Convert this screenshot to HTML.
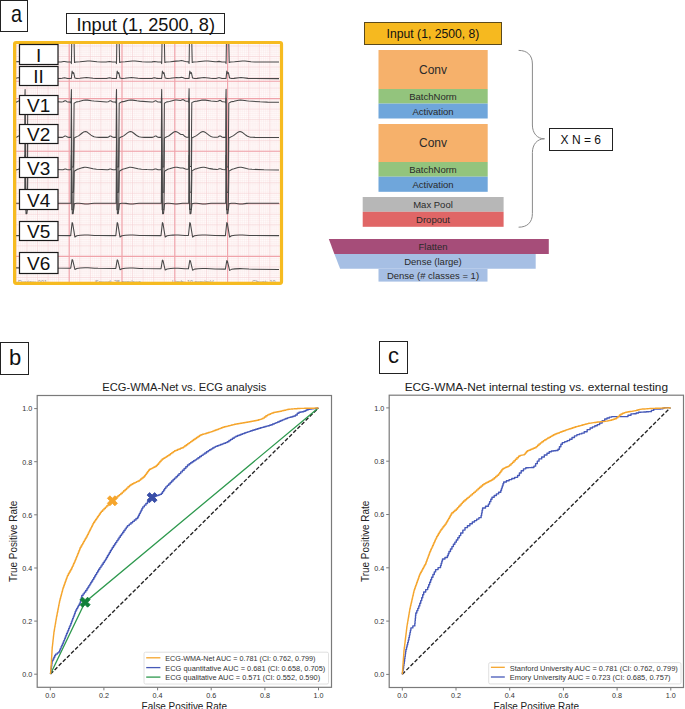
<!DOCTYPE html><html><head><meta charset="utf-8"><style>html,body{margin:0;padding:0;background:#fff;}svg{display:block;}</style></head><body><svg width="685" height="709" viewBox="0 0 685 709"><rect width="685" height="709" fill="#fff"/><rect x="0.5" y="0.5" width="27" height="31" fill="#fff" stroke="#222" stroke-width="1"/><text x="16.5" y="21.9" text-anchor="middle" font-family='"Liberation Sans", sans-serif' font-size="24" textLength="11" lengthAdjust="spacingAndGlyphs" fill="#111">a</text><rect x="66.5" y="13.5" width="158" height="20" fill="#fff" stroke="#222" stroke-width="1"/><text x="145.7" y="31" text-anchor="middle" font-family='"Liberation Sans", sans-serif' font-size="18.2" fill="#111">Input (1, 2500, 8)</text><defs><clipPath id="ecgclip"><rect x="16" y="44" width="264" height="238"/></clipPath></defs><g clip-path="url(#ecgclip)"><rect x="16" y="44" width="264" height="238" fill="#fffbfb"/><path d="M5.84 44V282M7.95 44V282M10.06 44V282M12.18 44V282M14.29 44V282M16.40 44V282M18.51 44V282M20.62 44V282M22.74 44V282M24.85 44V282M26.96 44V282M29.07 44V282M31.18 44V282M33.30 44V282M35.41 44V282M37.52 44V282M39.63 44V282M41.74 44V282M43.86 44V282M45.97 44V282M48.08 44V282M50.19 44V282M52.30 44V282M54.42 44V282M56.53 44V282M58.64 44V282M60.75 44V282M62.86 44V282M64.98 44V282M67.09 44V282M69.20 44V282M71.31 44V282M73.42 44V282M75.54 44V282M77.65 44V282M79.76 44V282M81.87 44V282M83.98 44V282M86.10 44V282M88.21 44V282M90.32 44V282M92.43 44V282M94.54 44V282M96.66 44V282M98.77 44V282M100.88 44V282M102.99 44V282M105.10 44V282M107.22 44V282M109.33 44V282M111.44 44V282M113.55 44V282M115.66 44V282M117.78 44V282M119.89 44V282M122.00 44V282M124.11 44V282M126.22 44V282M128.34 44V282M130.45 44V282M132.56 44V282M134.67 44V282M136.78 44V282M138.90 44V282M141.01 44V282M143.12 44V282M145.23 44V282M147.34 44V282M149.46 44V282M151.57 44V282M153.68 44V282M155.79 44V282M157.90 44V282M160.02 44V282M162.13 44V282M164.24 44V282M166.35 44V282M168.46 44V282M170.58 44V282M172.69 44V282M174.80 44V282M176.91 44V282M179.02 44V282M181.14 44V282M183.25 44V282M185.36 44V282M187.47 44V282M189.58 44V282M191.70 44V282M193.81 44V282M195.92 44V282M198.03 44V282M200.14 44V282M202.26 44V282M204.37 44V282M206.48 44V282M208.59 44V282M210.70 44V282M212.82 44V282M214.93 44V282M217.04 44V282M219.15 44V282M221.26 44V282M223.38 44V282M225.49 44V282M227.60 44V282M229.71 44V282M231.82 44V282M233.94 44V282M236.05 44V282M238.16 44V282M240.27 44V282M242.38 44V282M244.50 44V282M246.61 44V282M248.72 44V282M250.83 44V282M252.94 44V282M255.06 44V282M257.17 44V282M259.28 44V282M261.39 44V282M263.50 44V282M265.62 44V282M267.73 44V282M269.84 44V282M271.95 44V282M274.06 44V282M276.18 44V282M278.29 44V282M16 46.00H280M16 48.10H280M16 50.21H280M16 52.31H280M16 54.42H280M16 56.52H280M16 58.62H280M16 60.73H280M16 62.83H280M16 64.94H280M16 67.04H280M16 69.14H280M16 71.25H280M16 73.35H280M16 75.46H280M16 77.56H280M16 79.66H280M16 81.77H280M16 83.87H280M16 85.98H280M16 88.08H280M16 90.18H280M16 92.29H280M16 94.39H280M16 96.50H280M16 98.60H280M16 100.70H280M16 102.81H280M16 104.91H280M16 107.02H280M16 109.12H280M16 111.22H280M16 113.33H280M16 115.43H280M16 117.54H280M16 119.64H280M16 121.74H280M16 123.85H280M16 125.95H280M16 128.06H280M16 130.16H280M16 132.26H280M16 134.37H280M16 136.47H280M16 138.58H280M16 140.68H280M16 142.78H280M16 144.89H280M16 146.99H280M16 149.10H280M16 151.20H280M16 153.30H280M16 155.41H280M16 157.51H280M16 159.62H280M16 161.72H280M16 163.82H280M16 165.93H280M16 168.03H280M16 170.14H280M16 172.24H280M16 174.34H280M16 176.45H280M16 178.55H280M16 180.66H280M16 182.76H280M16 184.86H280M16 186.97H280M16 189.07H280M16 191.18H280M16 193.28H280M16 195.38H280M16 197.49H280M16 199.59H280M16 201.70H280M16 203.80H280M16 205.90H280M16 208.01H280M16 210.11H280M16 212.22H280M16 214.32H280M16 216.42H280M16 218.53H280M16 220.63H280M16 222.74H280M16 224.84H280M16 226.94H280M16 229.05H280M16 231.15H280M16 233.26H280M16 235.36H280M16 237.46H280M16 239.57H280M16 241.67H280M16 243.78H280M16 245.88H280M16 247.98H280M16 250.09H280M16 252.19H280M16 254.30H280M16 256.40H280M16 258.50H280M16 260.61H280M16 262.71H280M16 264.82H280M16 266.92H280M16 269.02H280M16 271.13H280M16 273.23H280M16 275.34H280M16 277.44H280M16 279.54H280M16 281.65H280" stroke="#f8dfe2" stroke-width="0.3" fill="none"/><path d="M16.40 44V282M26.96 44V282M37.52 44V282M48.08 44V282M58.64 44V282M69.20 44V282M79.76 44V282M90.32 44V282M100.88 44V282M111.44 44V282M122.00 44V282M132.56 44V282M143.12 44V282M153.68 44V282M164.24 44V282M174.80 44V282M185.36 44V282M195.92 44V282M206.48 44V282M217.04 44V282M227.60 44V282M238.16 44V282M248.72 44V282M259.28 44V282M269.84 44V282M16 46.00H280M16 56.52H280M16 67.04H280M16 77.56H280M16 88.08H280M16 98.60H280M16 109.12H280M16 119.64H280M16 130.16H280M16 140.68H280M16 151.20H280M16 161.72H280M16 172.24H280M16 182.76H280M16 193.28H280M16 203.80H280M16 214.32H280M16 224.84H280M16 235.36H280M16 245.88H280M16 256.40H280M16 266.92H280M16 277.44H280" stroke="#f5cfd3" stroke-width="0.5" fill="none"/><path d="M69.2 44V282M122.0 44V282M174.8 44V282M227.6 44V282M16 81.3H280M16 98.6H280M16 151.2H280M16 203.8H280M16 256.4H280" stroke="#f0a3aa" stroke-width="1.1" fill="none"/><path d="M16.00 61.75 L18.00 61.40 L21.00 61.92 L24.60 62.00 L25.10 63.60 L25.50 38.00 L27.70 37.98 L28.20 62.58 L29.50 61.96 L33.50 61.76 L41.00 61.02 L44.00 61.08 L50.50 61.76 L55.00 61.97 L61.00 61.95 L63.50 61.48 L64.50 61.41 L67.50 61.94 L70.90 62.00 L71.40 63.60 L71.80 38.00 L74.00 37.98 L74.50 62.58 L75.80 61.96 L80.00 61.75 L85.50 61.15 L87.50 61.01 L90.00 61.06 L97.00 61.78 L101.50 61.97 L106.00 61.95 L109.50 61.40 L112.50 61.93 L116.00 62.00 L116.50 63.60 L116.90 38.00 L119.10 37.98 L119.60 62.58 L120.90 61.96 L125.00 61.76 L132.50 61.02 L135.00 61.05 L142.00 61.77 L146.50 61.97 L151.00 61.96 L152.00 61.87 L154.50 61.40 L158.00 61.95 L161.20 62.00 L161.70 63.60 L162.10 38.00 L164.30 37.98 L164.80 62.58 L166.10 61.96 L170.50 61.73 L176.00 61.13 L179.00 60.92 L181.50 60.59 L182.50 60.69 L184.50 61.35 L185.50 61.57 L188.60 61.86 L189.10 63.49 L189.50 37.90 L191.70 37.95 L192.20 62.55 L193.50 61.94 L197.50 61.76 L205.00 61.02 L208.00 61.08 L215.00 61.78 L216.50 61.74 L219.00 61.37 L222.00 61.91 L225.60 62.00 L226.10 63.60 L226.50 38.00 L228.70 37.98 L229.20 62.58 L230.50 61.96 L234.50 61.76 L240.00 61.16 L242.50 61.00 L245.00 61.08 L251.00 61.72 L255.00 61.94 L279.00 62.00" stroke="#484848" stroke-width="1.05" fill="none" stroke-linejoin="round"/><path d="M16.00 78.27 L17.00 77.96 L18.00 77.80 L18.50 77.84 L21.00 78.49 L25.00 78.60 L25.80 71.10 L26.80 73.60 L27.40 72.59 L28.60 78.08 L30.50 78.54 L33.00 78.38 L38.00 77.72 L40.00 77.60 L42.00 77.72 L47.00 78.38 L49.50 78.54 L60.50 78.57 L62.00 78.35 L63.50 77.91 L64.50 77.81 L67.50 78.52 L71.30 78.60 L72.10 71.10 L73.10 73.60 L73.70 72.59 L74.90 78.08 L76.80 78.54 L80.00 78.31 L84.50 77.70 L86.50 77.60 L88.50 77.74 L93.00 78.35 L96.00 78.55 L105.50 78.57 L106.50 78.48 L108.50 77.93 L109.50 77.80 L112.50 78.51 L116.40 78.60 L117.20 71.10 L118.20 73.60 L118.80 72.59 L120.00 78.08 L121.90 78.54 L125.00 78.32 L129.50 77.71 L131.50 77.60 L133.50 77.73 L138.00 78.34 L141.00 78.54 L151.00 78.56 L152.00 78.42 L154.00 77.86 L154.50 77.80 L155.50 77.93 L157.00 78.38 L158.00 78.54 L161.60 78.60 L162.40 71.10 L163.40 73.60 L164.00 72.59 L165.20 78.08 L167.10 78.54 L167.50 78.52 L170.50 78.29 L175.00 77.68 L176.50 77.60 L179.00 77.66 L181.50 77.37 L182.50 77.51 L184.50 78.26 L185.50 78.46 L189.00 78.59 L189.80 71.09 L190.80 73.59 L191.40 72.59 L192.60 78.08 L194.50 78.54 L197.00 78.38 L202.00 77.72 L204.00 77.60 L206.00 77.72 L210.50 78.33 L213.00 78.52 L215.00 78.55 L216.00 78.48 L218.50 77.84 L219.00 77.80 L219.50 77.84 L222.00 78.49 L226.00 78.60 L226.80 71.10 L227.80 73.60 L228.40 72.59 L229.60 78.08 L231.50 78.54 L234.00 78.38 L239.00 77.72 L241.00 77.60 L243.00 77.72 L248.00 78.38 L251.00 78.56 L279.00 78.60" stroke="#484848" stroke-width="1.05" fill="none" stroke-linejoin="round"/><path d="M16.00 102.14 L17.00 101.87 L18.50 101.00 L19.00 100.89 L19.50 100.99 L21.00 101.85 L21.50 102.03 L22.50 102.15 L24.40 102.14 L24.70 103.14 L25.10 89.43 L25.50 167.12 L27.20 167.07 L27.80 103.24 L30.20 101.86 L33.00 101.39 L37.50 100.25 L39.50 100.04 L41.50 100.17 L45.50 100.83 L48.00 101.11 L61.50 101.96 L63.00 101.82 L65.00 100.82 L65.50 100.81 L66.00 101.00 L67.00 101.64 L68.00 102.02 L70.70 102.12 L71.00 103.12 L71.40 89.41 L71.80 167.10 L73.50 167.06 L74.10 103.24 L76.50 101.86 L79.00 101.46 L83.50 100.31 L85.50 100.05 L87.50 100.13 L91.50 100.78 L94.00 101.09 L106.50 101.90 L108.00 101.80 L108.50 101.63 L110.00 100.82 L110.50 100.76 L111.00 100.92 L112.00 101.56 L113.00 101.98 L114.00 102.10 L115.80 102.11 L116.10 103.11 L116.50 89.40 L116.90 167.10 L118.60 167.06 L119.20 103.23 L121.60 101.86 L124.50 101.37 L128.50 100.34 L130.50 100.05 L132.50 100.12 L137.00 100.84 L139.50 101.12 L151.50 101.90 L152.50 101.91 L153.50 101.71 L155.00 100.90 L155.50 100.76 L156.00 100.84 L157.50 101.73 L158.00 101.93 L159.00 102.09 L161.00 102.11 L161.30 103.11 L161.70 89.40 L162.10 167.10 L163.80 167.06 L164.40 103.23 L166.80 101.86 L169.50 101.41 L174.00 100.27 L175.50 100.07 L176.50 100.04 L180.50 100.41 L181.00 100.32 L182.50 99.68 L183.00 99.64 L183.50 99.80 L185.00 100.80 L185.50 101.01 L186.50 101.20 L188.40 101.32 L188.70 102.34 L189.10 88.65 L189.50 166.37 L191.20 166.43 L191.80 102.65 L194.20 101.43 L197.00 101.12 L201.50 100.14 L203.50 99.97 L205.50 100.13 L211.00 101.01 L216.50 101.40 L217.50 101.34 L218.00 101.19 L219.50 100.43 L220.00 100.35 L220.50 100.49 L222.00 101.44 L222.50 101.65 L223.50 101.82 L225.40 101.91 L225.70 102.92 L226.10 89.23 L226.50 166.93 L228.00 166.94 L228.20 166.94 L228.80 103.13 L231.20 101.80 L234.00 101.36 L238.50 100.25 L240.50 100.04 L242.50 100.16 L246.50 100.83 L248.50 101.07 L260.00 101.85 L267.50 102.13 L279.00 102.20" stroke="#484848" stroke-width="1.05" fill="none" stroke-linejoin="round"/><path d="M16.00 137.33 L17.00 137.03 L18.50 136.02 L19.00 135.90 L19.50 136.02 L21.00 137.03 L21.50 137.23 L22.50 137.38 L24.70 137.38 L25.10 98.38 L25.55 192.37 L27.20 192.29 L27.80 138.03 L32.50 135.65 L36.00 132.91 L37.00 132.22 L38.00 131.76 L39.00 131.60 L40.00 131.76 L41.00 132.22 L42.00 132.91 L44.50 134.94 L46.00 135.95 L47.50 136.65 L49.00 137.06 L50.50 137.26 L52.50 137.37 L62.00 137.37 L63.00 137.16 L65.00 135.95 L65.50 135.92 L66.00 136.13 L67.00 136.85 L68.00 137.28 L69.00 137.38 L71.00 137.38 L71.40 98.38 L71.85 192.37 L73.50 192.29 L74.10 138.03 L76.50 136.75 L77.50 136.37 L78.50 135.84 L80.00 134.78 L82.50 132.76 L83.50 132.11 L84.50 131.70 L85.50 131.61 L86.50 131.83 L87.50 132.34 L91.00 135.09 L92.50 136.07 L94.00 136.72 L95.50 137.10 L97.00 137.28 L99.00 137.37 L107.00 137.37 L108.00 137.20 L108.50 136.97 L110.00 135.98 L110.50 135.91 L111.00 136.08 L112.00 136.78 L113.00 137.26 L114.00 137.38 L116.10 137.38 L116.50 98.38 L116.95 192.37 L118.60 192.29 L119.20 138.03 L121.60 136.75 L123.00 136.17 L124.00 135.58 L127.50 132.83 L128.50 132.16 L129.50 131.73 L130.50 131.60 L131.50 131.80 L132.50 132.28 L133.50 132.98 L136.00 135.02 L137.50 136.01 L139.00 136.69 L140.50 137.08 L142.00 137.27 L144.00 137.37 L152.50 137.35 L153.50 137.08 L155.00 136.08 L155.50 135.91 L156.00 135.98 L157.50 136.97 L158.00 137.20 L159.00 137.37 L161.30 137.38 L161.70 98.38 L162.15 192.37 L163.80 192.29 L164.40 138.03 L166.80 136.75 L168.00 136.27 L169.00 135.71 L173.50 132.28 L174.50 131.80 L175.50 131.60 L176.50 131.73 L177.50 132.16 L180.50 134.29 L181.00 134.49 L182.50 134.52 L183.00 134.67 L183.50 135.04 L185.00 136.55 L185.50 136.87 L186.50 137.18 L188.70 137.34 L189.10 98.34 L189.55 192.34 L191.20 192.28 L191.80 138.03 L196.50 135.65 L200.00 132.91 L201.00 132.22 L202.00 131.76 L203.00 131.60 L204.00 131.76 L205.00 132.22 L206.00 132.91 L209.50 135.65 L211.00 136.45 L212.50 136.95 L214.50 137.26 L217.00 137.31 L218.00 137.02 L219.50 136.02 L220.00 135.90 L220.50 136.02 L222.00 137.03 L222.50 137.23 L223.50 137.38 L225.70 137.38 L226.10 98.38 L226.55 192.37 L228.20 192.29 L228.80 138.03 L233.50 135.65 L237.00 132.91 L238.00 132.22 L239.00 131.76 L240.00 131.60 L241.00 131.76 L242.00 132.22 L243.00 132.91 L246.00 135.31 L247.50 136.22 L249.00 136.82 L250.50 137.15 L252.50 137.33 L255.00 137.39 L279.00 137.40" stroke="#484848" stroke-width="1.05" fill="none" stroke-linejoin="round"/><path d="M16.00 169.86 L17.00 169.70 L18.50 169.16 L19.00 169.09 L19.50 169.16 L21.50 169.79 L24.70 169.85 L25.10 137.84 L25.55 209.83 L27.25 209.76 L27.90 171.22 L31.20 169.25 L33.00 168.78 L36.50 167.67 L38.00 167.35 L39.00 167.26 L41.00 167.39 L46.50 168.75 L48.50 169.09 L50.50 169.29 L56.00 169.57 L62.00 169.76 L63.00 169.67 L65.00 169.05 L65.50 169.05 L67.00 169.56 L68.00 169.79 L71.00 169.84 L71.40 137.83 L71.85 209.82 L73.55 209.75 L74.20 171.21 L77.50 169.25 L79.00 168.87 L83.00 167.62 L84.50 167.32 L85.50 167.25 L87.50 167.43 L93.00 168.79 L96.50 169.26 L107.00 169.73 L108.00 169.66 L110.00 169.05 L110.50 169.02 L113.00 169.76 L116.10 169.83 L116.50 137.82 L116.95 209.82 L118.65 209.75 L119.30 171.21 L122.60 169.25 L124.50 168.75 L128.00 167.64 L129.50 167.34 L130.50 167.25 L132.50 167.41 L138.00 168.77 L141.50 169.25 L147.00 169.56 L152.50 169.72 L153.50 169.60 L155.00 169.10 L155.50 169.02 L156.00 169.06 L158.00 169.73 L159.00 169.83 L161.30 169.83 L161.70 137.83 L162.15 209.82 L163.85 209.75 L164.50 171.21 L167.80 169.25 L169.50 168.81 L173.00 167.70 L175.00 167.30 L177.00 167.31 L180.50 168.01 L183.00 167.92 L185.50 169.03 L186.50 169.20 L188.70 169.34 L189.10 137.35 L189.55 209.37 L191.25 209.38 L191.90 170.86 L195.20 169.03 L197.00 168.62 L201.00 167.47 L203.00 167.21 L204.00 167.24 L205.50 167.46 L210.00 168.64 L213.00 169.14 L217.00 169.40 L218.00 169.28 L219.50 168.81 L220.00 168.77 L220.50 168.85 L222.50 169.56 L225.70 169.72 L226.10 137.72 L226.55 209.72 L228.25 209.68 L228.90 171.15 L232.20 169.23 L234.00 168.77 L238.00 167.54 L240.00 167.25 L241.00 167.27 L242.50 167.48 L246.50 168.53 L248.50 168.94 L252.00 169.32 L264.00 169.80 L279.00 169.90" stroke="#484848" stroke-width="1.05" fill="none" stroke-linejoin="round"/><path d="M16.00 203.20 L24.70 203.20 L25.10 155.20 L26.00 213.70 L26.90 213.70 L28.00 203.70 L30.20 203.20 L32.50 203.24 L35.00 203.42 L38.50 203.99 L40.00 204.10 L41.50 203.99 L45.00 203.42 L47.50 203.24 L71.00 203.20 L71.40 155.20 L72.30 213.70 L73.20 213.70 L74.30 203.70 L76.50 203.20 L79.00 203.25 L81.50 203.45 L85.00 204.02 L86.50 204.10 L88.00 203.97 L91.50 203.40 L94.00 203.23 L116.10 203.20 L116.50 155.20 L117.40 213.70 L118.30 213.70 L119.40 203.70 L121.60 203.20 L124.00 203.24 L126.00 203.38 L130.00 204.01 L131.50 204.10 L133.00 203.98 L136.50 203.41 L139.00 203.24 L161.30 203.20 L161.70 155.20 L162.60 213.70 L163.50 213.70 L164.60 203.70 L166.80 203.20 L169.00 203.24 L171.50 203.41 L175.50 204.04 L177.00 204.09 L182.50 203.33 L184.50 203.23 L188.70 203.20 L189.10 155.20 L190.00 213.70 L190.90 213.70 L192.00 203.70 L194.20 203.20 L196.50 203.24 L199.00 203.42 L202.50 203.99 L204.00 204.10 L205.50 203.99 L209.00 203.42 L211.00 203.26 L225.70 203.20 L226.10 155.20 L227.00 213.70 L227.90 213.70 L229.00 203.70 L231.20 203.20 L235.00 203.32 L239.50 203.99 L241.00 204.10 L242.50 203.99 L246.50 203.37 L249.00 203.23 L279.00 203.20" stroke="#484848" stroke-width="1.05" fill="none" stroke-linejoin="round"/><path d="M16.00 235.60 L24.40 235.60 L25.80 222.59 L26.40 223.59 L28.60 237.06 L30.50 235.80 L34.00 235.31 L38.50 235.03 L42.00 235.05 L48.00 235.43 L52.00 235.57 L70.70 235.60 L72.10 222.59 L72.70 223.59 L74.90 237.06 L76.80 235.80 L80.30 235.31 L84.50 235.04 L88.00 235.03 L94.50 235.44 L98.00 235.56 L115.80 235.60 L117.20 222.59 L117.80 223.59 L120.00 237.06 L121.90 235.80 L125.40 235.31 L130.00 235.02 L133.00 235.03 L139.50 235.44 L143.00 235.56 L161.00 235.60 L162.40 222.59 L163.00 223.59 L165.20 237.06 L167.10 235.80 L170.60 235.31 L173.00 235.14 L175.50 235.01 L178.00 235.02 L185.00 235.45 L188.40 235.56 L189.80 222.57 L190.40 223.57 L192.60 237.05 L194.50 235.80 L198.00 235.31 L202.00 235.05 L205.50 235.03 L215.00 235.55 L225.40 235.60 L226.80 222.59 L227.40 223.59 L229.60 237.06 L231.50 235.80 L235.00 235.31 L239.50 235.03 L242.50 235.03 L249.50 235.46 L253.50 235.57 L279.00 235.60" stroke="#484848" stroke-width="1.05" fill="none" stroke-linejoin="round"/><path d="M16.00 267.86 L24.40 267.90 L25.80 259.30 L26.40 259.90 L28.60 269.19 L30.50 268.14 L34.00 267.67 L38.50 267.42 L42.00 267.46 L48.00 267.88 L52.00 268.04 L70.70 268.18 L72.10 259.58 L72.70 260.18 L74.90 269.46 L76.80 268.42 L80.30 267.95 L85.00 267.69 L88.00 267.72 L94.50 268.17 L98.00 268.31 L115.80 268.45 L117.20 259.85 L117.80 260.45 L120.00 269.74 L121.90 268.69 L125.40 268.22 L130.00 267.96 L133.00 267.99 L139.50 268.44 L143.00 268.58 L161.00 268.72 L162.40 260.12 L163.00 260.72 L165.20 270.01 L167.10 268.96 L170.60 268.49 L174.00 268.28 L178.00 268.25 L185.00 268.72 L188.40 268.85 L189.80 260.27 L190.40 260.87 L192.60 270.17 L194.50 269.13 L198.00 268.66 L202.50 268.40 L206.00 268.44 L215.00 269.00 L225.40 269.11 L226.80 260.51 L227.40 261.11 L229.60 270.39 L231.50 269.35 L235.00 268.88 L240.00 268.61 L243.00 268.66 L249.00 269.09 L253.00 269.24 L279.00 269.43" stroke="#484848" stroke-width="1.05" fill="none" stroke-linejoin="round"/><g font-family='"Liberation Sans", sans-serif' font-size="5.5" fill="#8a8a8a"><text x="18" y="283.6">Device: 001</text><text x="95" y="283.6">Speed: 25 mm/sec</text><text x="172" y="283.6">Limb: 10 mm/mV</text><text x="252" y="283.6">Chest: 10</text></g></g><rect x="14.6" y="42.5" width="266.9" height="240.8" rx="1.5" fill="none" stroke="#f6bb20" stroke-width="3.2"/><rect x="19.5" y="44.5" width="38.5" height="20.0" fill="#fff" stroke="#1a1a1a" stroke-width="1.2"/><text x="38.6" y="61.5" text-anchor="middle" font-family='"Liberation Sans", sans-serif' font-size="19" fill="#111">I</text><rect x="19.5" y="66.5" width="38.5" height="19.0" fill="#fff" stroke="#1a1a1a" stroke-width="1.2"/><text x="38.6" y="83.2" text-anchor="middle" font-family='"Liberation Sans", sans-serif' font-size="19" fill="#111">II</text><rect x="19.5" y="95.5" width="38.5" height="19.0" fill="#fff" stroke="#1a1a1a" stroke-width="1.2"/><text x="38.6" y="112.4" text-anchor="middle" font-family='"Liberation Sans", sans-serif' font-size="19" fill="#111">V1</text><rect x="19.5" y="124.5" width="38.5" height="19.0" fill="#fff" stroke="#1a1a1a" stroke-width="1.2"/><text x="38.6" y="141.3" text-anchor="middle" font-family='"Liberation Sans", sans-serif' font-size="19" fill="#111">V2</text><rect x="19.5" y="157.5" width="38.5" height="20.0" fill="#fff" stroke="#1a1a1a" stroke-width="1.2"/><text x="38.6" y="175.2" text-anchor="middle" font-family='"Liberation Sans", sans-serif' font-size="19" fill="#111">V3</text><rect x="19.5" y="189.5" width="38.5" height="20.0" fill="#fff" stroke="#1a1a1a" stroke-width="1.2"/><text x="38.6" y="206.9" text-anchor="middle" font-family='"Liberation Sans", sans-serif' font-size="19" fill="#111">V4</text><rect x="19.5" y="221.5" width="38.5" height="19.0" fill="#fff" stroke="#1a1a1a" stroke-width="1.2"/><text x="38.6" y="238.2" text-anchor="middle" font-family='"Liberation Sans", sans-serif' font-size="19" fill="#111">V5</text><rect x="19.5" y="252.5" width="38.5" height="21.0" fill="#fff" stroke="#1a1a1a" stroke-width="1.2"/><text x="38.6" y="270.4" text-anchor="middle" font-family='"Liberation Sans", sans-serif' font-size="19" fill="#111">V6</text><rect x="364.5" y="22.5" width="137.0" height="22.0" fill="#f6b91f" stroke="#5b4a1c" stroke-width="1"/><text x="433" y="38.2" text-anchor="middle" font-family='"Liberation Sans", sans-serif' font-size="12.2" fill="#111">Input (1, 2500, 8)</text><rect x="378.5" y="50" width="109.2" height="39.0" fill="#f6b16b"/><text x="433" y="74.2" text-anchor="middle" font-family='"Liberation Sans", sans-serif' font-size="12" fill="#2a2a2a">Conv</text><rect x="378.5" y="89" width="109.2" height="14.6" fill="#93c47d"/><text x="433" y="99.6" text-anchor="middle" font-family='"Liberation Sans", sans-serif' font-size="9.5" fill="#2a2a2a">BatchNorm</text><rect x="378.5" y="103.6" width="109.2" height="14.9" fill="#6fa6db"/><text x="433" y="114.5" text-anchor="middle" font-family='"Liberation Sans", sans-serif' font-size="9.5" fill="#2a2a2a">Activation</text><rect x="378.5" y="124" width="109.2" height="38.0" fill="#f6b16b"/><text x="433" y="147.4" text-anchor="middle" font-family='"Liberation Sans", sans-serif' font-size="12" fill="#2a2a2a">Conv</text><rect x="378.5" y="162" width="109.2" height="14.7" fill="#93c47d"/><text x="433" y="172.8" text-anchor="middle" font-family='"Liberation Sans", sans-serif' font-size="9.5" fill="#2a2a2a">BatchNorm</text><rect x="378.5" y="176.7" width="109.2" height="15.1" fill="#6fa6db"/><text x="433" y="187.7" text-anchor="middle" font-family='"Liberation Sans", sans-serif' font-size="9.5" fill="#2a2a2a">Activation</text><rect x="362.7" y="197" width="140.9" height="14.8" fill="#b7b7b7"/><text x="433" y="207.8" text-anchor="middle" font-family='"Liberation Sans", sans-serif' font-size="9.5" fill="#2a2a2a">Max Pool</text><rect x="362.7" y="211.8" width="140.9" height="15.0" fill="#e06666"/><text x="433" y="222.7" text-anchor="middle" font-family='"Liberation Sans", sans-serif' font-size="9.5" fill="#2a2a2a">Dropout</text><polygon points="328.8,239.1 548.8,239.1 548.8,253.9 334.4,253.9" fill="#a64d79"/><text x="433" y="250.0" text-anchor="middle" font-family='"Liberation Sans", sans-serif' font-size="9.5" fill="#2a2a2a">Flatten</text><polygon points="334.4,253.9 535.7,253.9 535.7,268.8 340.1,268.8" fill="#a6bfe4"/><text x="433" y="264.8" text-anchor="middle" font-family='"Liberation Sans", sans-serif' font-size="9.5" fill="#2a2a2a">Dense (large)</text><rect x="378.5" y="268.8" width="109.0" height="12.8" fill="#a6bfe4"/><text x="433" y="278.8" text-anchor="middle" font-family='"Liberation Sans", sans-serif' font-size="9.5" fill="#2a2a2a">Dense (# classes = 1)</text><path d="M518.6 50.4 C527 50.4 532.4 55 532.4 64 L532.4 125 C532.4 133 537 138.8 544.5 138.8 C537 138.8 532.4 144.6 532.4 152.6 L532.4 213.6 C532.4 222.6 527 227.2 518.6 227.2" fill="none" stroke="#8a8a8a" stroke-width="1"/><rect x="549.5" y="128.5" width="63.0" height="22.0" fill="#fff" stroke="#222" stroke-width="1"/><text x="580.8" y="143.9" text-anchor="middle" font-family='"Liberation Sans", sans-serif' font-size="12" fill="#111">X N = 6</text><rect x="0.5" y="342.5" width="28" height="32" fill="#fff" stroke="#222" stroke-width="1"/><text x="15" y="364.6" text-anchor="middle" font-family='"Liberation Sans", sans-serif' font-size="22" fill="#111">b</text><rect x="37.2" y="395.5" width="294.3" height="291.79999999999995" fill="none" stroke="#7a7a7a" stroke-width="1.2"/><text x="50.3" y="697.9" text-anchor="middle" font-family='"Liberation Sans", sans-serif' font-size="7.8" textLength="10" lengthAdjust="spacingAndGlyphs" fill="#333">0.0</text><text x="32.2" y="677.0" text-anchor="end" font-family='"Liberation Sans", sans-serif' font-size="7.8" textLength="10" lengthAdjust="spacingAndGlyphs" fill="#333">0.0</text><text x="103.9" y="697.9" text-anchor="middle" font-family='"Liberation Sans", sans-serif' font-size="7.8" textLength="10" lengthAdjust="spacingAndGlyphs" fill="#333">0.2</text><text x="32.2" y="623.9" text-anchor="end" font-family='"Liberation Sans", sans-serif' font-size="7.8" textLength="10" lengthAdjust="spacingAndGlyphs" fill="#333">0.2</text><text x="157.6" y="697.9" text-anchor="middle" font-family='"Liberation Sans", sans-serif' font-size="7.8" textLength="10" lengthAdjust="spacingAndGlyphs" fill="#333">0.4</text><text x="32.2" y="570.8" text-anchor="end" font-family='"Liberation Sans", sans-serif' font-size="7.8" textLength="10" lengthAdjust="spacingAndGlyphs" fill="#333">0.4</text><text x="211.2" y="697.9" text-anchor="middle" font-family='"Liberation Sans", sans-serif' font-size="7.8" textLength="10" lengthAdjust="spacingAndGlyphs" fill="#333">0.6</text><text x="32.2" y="517.6" text-anchor="end" font-family='"Liberation Sans", sans-serif' font-size="7.8" textLength="10" lengthAdjust="spacingAndGlyphs" fill="#333">0.6</text><text x="264.9" y="697.9" text-anchor="middle" font-family='"Liberation Sans", sans-serif' font-size="7.8" textLength="10" lengthAdjust="spacingAndGlyphs" fill="#333">0.8</text><text x="32.2" y="464.5" text-anchor="end" font-family='"Liberation Sans", sans-serif' font-size="7.8" textLength="10" lengthAdjust="spacingAndGlyphs" fill="#333">0.8</text><text x="318.5" y="697.9" text-anchor="middle" font-family='"Liberation Sans", sans-serif' font-size="7.8" textLength="10" lengthAdjust="spacingAndGlyphs" fill="#333">1.0</text><text x="32.2" y="411.4" text-anchor="end" font-family='"Liberation Sans", sans-serif' font-size="7.8" textLength="10" lengthAdjust="spacingAndGlyphs" fill="#333">1.0</text><path d="M50.3 687.3v3M37.2 674.2h-3M103.9 687.3v3M37.2 621.1h-3M157.6 687.3v3M37.2 568.0h-3M211.2 687.3v3M37.2 514.8h-3M264.9 687.3v3M37.2 461.7h-3M318.5 687.3v3M37.2 408.6h-3" stroke="#7a7a7a" stroke-width="1"/><text x="184.35" y="391.4" text-anchor="middle" font-family='"Liberation Sans", sans-serif' font-size="11.3" textLength="164" lengthAdjust="spacingAndGlyphs" fill="#222">ECG-WMA-Net vs. ECG analysis</text><text x="184.35" y="709.5" text-anchor="middle" font-family='"Liberation Sans", sans-serif' font-size="10" textLength="85.5" lengthAdjust="spacingAndGlyphs" fill="#222">False Positive Rate</text><text x="0" y="0" transform="translate(17.3,541.4) rotate(-90)" text-anchor="middle" font-family='"Liberation Sans", sans-serif' font-size="10" textLength="81.3" lengthAdjust="spacingAndGlyphs" fill="#222">True Positive Rate</text><path d="M50.5 674 L318.3 408" stroke="#222" stroke-width="1.35" stroke-dasharray="3.9 1.9" fill="none"/><path d="M50.50 674.00 L85.00 602.20 L318.30 408.00" stroke="#2e994e" stroke-width="1.3" fill="none"/><path d="M50.50 674.00 L50.50 673.22 L50.71 673.22 L50.71 671.66 L50.92 671.66 L50.92 670.09 L51.14 670.09 L51.14 668.53 L51.35 668.53 L51.35 666.97 L51.56 666.97 L51.56 665.41 L51.77 665.41 L51.77 663.84 L51.99 663.84 L51.99 662.28 L52.20 662.28 L52.20 661.50 L52.20 660.65 L53.05 660.65 L53.05 658.95 L53.90 658.95 L53.90 657.25 L54.75 657.25 L54.75 655.55 L55.60 655.55 L55.60 654.70 L55.60 654.08 L57.30 654.08 L57.30 652.83 L59.00 652.83 L59.00 652.20 L59.00 651.43 L59.70 651.43 L59.70 649.88 L60.40 649.88 L60.40 648.33 L61.10 648.33 L61.10 646.78 L61.80 646.78 L61.80 645.23 L62.50 645.23 L62.50 643.68 L63.20 643.68 L63.20 642.90 L63.20 642.05 L63.88 642.05 L63.88 640.35 L64.56 640.35 L64.56 638.65 L65.24 638.65 L65.24 636.95 L65.92 636.95 L65.92 635.25 L66.60 635.25 L66.60 634.40 L66.60 633.56 L67.30 633.56 L67.30 631.88 L68.00 631.88 L68.00 630.19 L68.70 630.19 L68.70 628.51 L69.40 628.51 L69.40 626.82 L70.10 626.82 L70.10 625.14 L70.80 625.14 L70.80 624.30 L70.80 623.45 L71.44 623.45 L71.44 621.75 L72.08 621.75 L72.08 620.05 L72.71 620.05 L72.71 618.35 L73.35 618.35 L73.35 616.65 L73.99 616.65 L73.99 614.95 L74.63 614.95 L74.63 613.25 L75.26 613.25 L75.26 611.55 L75.90 611.55 L75.90 610.70 L75.90 609.94 L76.74 609.94 L76.74 608.42 L77.58 608.42 L77.58 606.90 L78.42 606.90 L78.42 605.38 L79.26 605.38 L79.26 603.86 L80.10 603.86 L80.10 603.10 L80.10 602.26 L80.52 602.26 L80.52 600.59 L80.95 600.59 L80.95 598.91 L81.37 598.91 L81.37 597.24 L81.80 597.24 L81.80 596.40 L81.80 595.55 L83.08 595.55 L83.08 593.85 L84.35 593.85 L84.35 592.15 L85.63 592.15 L85.63 590.45 L86.90 590.45 L86.90 589.60 L86.90 588.81 L87.87 588.81 L87.87 587.24 L88.84 587.24 L88.84 585.67 L89.81 585.67 L89.81 584.10 L90.79 584.10 L90.79 582.53 L91.76 582.53 L91.76 580.96 L92.73 580.96 L92.73 579.39 L93.70 579.39 L93.70 578.60 L93.70 577.75 L94.70 577.75 L94.70 576.05 L95.70 576.05 L95.70 574.35 L96.70 574.35 L96.70 572.65 L97.70 572.65 L97.70 570.95 L98.70 570.95 L98.70 570.10 L98.70 569.26 L99.83 569.26 L99.83 567.58 L100.97 567.58 L100.97 565.89 L102.10 565.89 L102.10 564.21 L103.23 564.21 L103.23 562.52 L104.37 562.52 L104.37 560.84 L105.50 560.84 L105.50 560.00 L105.50 559.16 L106.47 559.16 L106.47 557.49 L107.44 557.49 L107.44 555.82 L108.41 555.82 L108.41 554.15 L109.39 554.15 L109.39 552.48 L110.36 552.48 L110.36 550.81 L111.33 550.81 L111.33 549.14 L112.30 549.14 L112.30 548.30 L112.30 547.45 L113.43 547.45 L113.43 545.75 L114.57 545.75 L114.57 544.05 L115.70 544.05 L115.70 542.35 L116.83 542.35 L116.83 540.65 L117.97 540.65 L117.97 538.95 L119.10 538.95 L119.10 538.10 L119.10 537.26 L120.30 537.26 L120.30 535.57 L121.50 535.57 L121.50 533.89 L122.70 533.89 L122.70 532.20 L123.90 532.20 L123.90 530.51 L125.10 530.51 L125.10 528.83 L126.30 528.83 L126.30 527.14 L127.50 527.14 L127.50 526.30 L127.50 525.59 L129.20 525.59 L129.20 524.17 L130.90 524.17 L130.90 522.76 L132.60 522.76 L132.60 521.34 L134.30 521.34 L134.30 519.93 L136.00 519.93 L136.00 518.51 L137.70 518.51 L137.70 517.80 L137.70 516.96 L138.55 516.96 L138.55 515.27 L139.40 515.27 L139.40 513.59 L140.25 513.59 L140.25 511.91 L141.10 511.91 L141.10 510.23 L141.95 510.23 L141.95 508.54 L142.80 508.54 L142.80 507.70 L142.80 506.85 L144.35 506.85 L144.35 505.15 L145.90 505.15 L145.90 503.45 L147.45 503.45 L147.45 501.75 L149.00 501.75 L149.00 500.05 L150.55 500.05 L150.55 498.35 L152.10 498.35 L152.10 497.50 L152.10 497.22 L153.65 497.22 L153.65 496.65 L155.20 496.65 L155.20 496.08 L156.75 496.08 L156.75 495.52 L158.30 495.52 L158.30 494.95 L159.85 494.95 L159.85 494.38 L161.40 494.38 L161.40 494.10 L161.40 493.29 L162.50 493.29 L162.50 491.66 L163.60 491.66 L163.60 490.04 L164.70 490.04 L164.70 488.41 L165.80 488.41 L165.80 487.60 L165.80 486.87 L167.26 486.87 L167.26 485.41 L168.72 485.41 L168.72 483.95 L170.18 483.95 L170.18 482.49 L171.64 482.49 L171.64 481.03 L173.10 481.03 L173.10 480.30 L173.10 479.57 L174.57 479.57 L174.57 478.12 L176.05 478.12 L176.05 476.68 L177.52 476.68 L177.52 475.23 L179.00 475.23 L179.00 474.50 L179.00 473.64 L180.70 473.64 L180.70 471.92 L182.40 471.92 L182.40 470.21 L184.10 470.21 L184.10 468.49 L185.80 468.49 L185.80 466.77 L187.50 466.77 L187.50 465.06 L189.20 465.06 L189.20 464.20 L189.20 463.72 L190.67 463.72 L190.67 462.75 L192.13 462.75 L192.13 461.78 L193.60 461.78 L193.60 460.82 L195.07 460.82 L195.07 459.85 L196.53 459.85 L196.53 458.88 L198.00 458.88 L198.00 458.40 L198.00 457.79 L199.70 457.79 L199.70 456.57 L201.40 456.57 L201.40 455.36 L203.10 455.36 L203.10 454.14 L204.80 454.14 L204.80 452.93 L206.50 452.93 L206.50 451.71 L208.20 451.71 L208.20 451.10 L208.20 450.66 L209.66 450.66 L209.66 449.78 L211.12 449.78 L211.12 448.90 L212.58 448.90 L212.58 448.02 L214.04 448.02 L214.04 447.14 L215.50 447.14 L215.50 446.70 L215.50 446.39 L217.17 446.39 L217.17 445.76 L218.84 445.76 L218.84 445.13 L220.51 445.13 L220.51 444.50 L222.19 444.50 L222.19 443.87 L223.86 443.87 L223.86 443.24 L225.53 443.24 L225.53 442.61 L227.20 442.61 L227.20 442.30 L227.20 441.72 L228.94 441.72 L228.94 440.56 L230.68 440.56 L230.68 439.40 L232.42 439.40 L232.42 438.24 L234.16 438.24 L234.16 437.08 L235.90 437.08 L235.90 436.50 L235.90 436.19 L237.57 436.19 L237.57 435.56 L239.24 435.56 L239.24 434.93 L240.91 434.93 L240.91 434.30 L242.59 434.30 L242.59 433.67 L244.26 433.67 L244.26 433.04 L245.93 433.04 L245.93 432.41 L247.60 432.41 L247.60 432.10 L247.60 431.84 L249.21 431.84 L249.21 431.33 L250.83 431.33 L250.83 430.82 L252.44 430.82 L252.44 430.31 L254.05 430.31 L254.05 429.79 L255.66 429.79 L255.66 429.28 L257.28 429.28 L257.28 428.77 L258.89 428.77 L258.89 428.26 L260.50 428.26 L260.50 428.00 L260.50 427.79 L262.00 427.79 L262.00 427.38 L263.50 427.38 L263.50 426.96 L265.00 426.96 L265.00 426.55 L266.50 426.55 L266.50 426.14 L268.00 426.14 L268.00 425.72 L269.50 425.72 L269.50 425.31 L271.00 425.31 L271.00 425.10 L271.00 424.75 L272.64 424.75 L272.64 424.05 L274.28 424.05 L274.28 423.35 L275.92 423.35 L275.92 422.65 L277.56 422.65 L277.56 421.95 L279.20 421.95 L279.20 421.60 L279.20 421.25 L280.84 421.25 L280.84 420.55 L282.48 420.55 L282.48 419.85 L284.12 419.85 L284.12 419.15 L285.76 419.15 L285.76 418.45 L287.40 418.45 L287.40 418.10 L287.40 417.87 L289.02 417.87 L289.02 417.41 L290.64 417.41 L290.64 416.95 L292.26 416.95 L292.26 416.49 L293.88 416.49 L293.88 416.03 L295.50 416.03 L295.50 415.80 L295.50 414.93 L297.25 414.93 L297.25 413.18 L299.00 413.18 L299.00 412.30 L299.00 412.20 L300.57 412.20 L300.57 412.00 L302.13 412.00 L302.13 411.80 L303.70 411.80 L303.70 411.70 L303.70 411.30 L305.27 411.30 L305.27 410.50 L306.83 410.50 L306.83 409.70 L308.40 409.70 L308.40 409.30 L308.40 409.22 L309.97 409.22 L309.97 409.05 L311.53 409.05 L311.53 408.88 L313.10 408.88 L313.10 408.80 L313.10 408.67 L314.83 408.67 L314.83 408.40 L316.57 408.40 L316.57 408.13 L318.30 408.13 L318.30 408.00" stroke="#4659b8" stroke-width="1.4" fill="none" stroke-linejoin="round"/><path d="M50.50 674.00 L50.50 673.31 L50.60 673.31 L50.60 671.92 L50.70 671.92 L50.70 670.53 L50.80 670.53 L50.80 669.14 L50.90 669.14 L50.90 667.75 L51.00 667.75 L51.00 666.36 L51.10 666.36 L51.10 664.97 L51.20 664.97 L51.20 663.58 L51.30 663.58 L51.30 662.19 L51.40 662.19 L51.40 661.50 L51.40 660.83 L51.48 660.83 L51.48 659.48 L51.56 659.48 L51.56 658.12 L51.64 658.12 L51.64 656.77 L51.72 656.77 L51.72 655.42 L51.80 655.42 L51.80 654.07 L51.88 654.07 L51.88 652.72 L51.96 652.72 L51.96 651.37 L52.04 651.37 L52.04 650.02 L52.12 650.02 L52.12 648.67 L52.20 648.67 L52.20 648.00 L52.20 647.30 L52.35 647.30 L52.35 645.91 L52.51 645.91 L52.51 644.52 L52.66 644.52 L52.66 643.13 L52.82 643.13 L52.82 641.74 L52.97 641.74 L52.97 640.35 L53.13 640.35 L53.13 638.96 L53.28 638.96 L53.28 637.57 L53.44 637.57 L53.44 636.18 L53.59 636.18 L53.59 634.79 L53.75 634.79 L53.75 633.40 L53.90 633.40 L53.90 632.70 L53.90 632.01 L54.14 632.01 L54.14 630.63 L54.37 630.63 L54.37 629.25 L54.61 629.25 L54.61 627.86 L54.85 627.86 L54.85 626.48 L55.08 626.48 L55.08 625.10 L55.32 625.10 L55.32 623.72 L55.55 623.72 L55.55 622.34 L55.79 622.34 L55.79 620.95 L56.03 620.95 L56.03 619.57 L56.26 619.57 L56.26 618.19 L56.50 618.19 L56.50 617.50 L56.50 616.80 L56.77 616.80 L56.77 615.39 L57.05 615.39 L57.05 613.98 L57.32 613.98 L57.32 612.57 L57.60 612.57 L57.60 611.16 L57.87 611.16 L57.87 609.75 L58.15 609.75 L58.15 608.35 L58.42 608.35 L58.42 606.94 L58.70 606.94 L58.70 605.53 L58.97 605.53 L58.97 604.12 L59.25 604.12 L59.25 602.71 L59.52 602.71 L59.52 601.30 L59.80 601.30 L59.80 600.60 L59.80 599.89 L60.18 599.89 L60.18 598.48 L60.56 598.48 L60.56 597.07 L60.93 597.07 L60.93 595.66 L61.31 595.66 L61.31 594.25 L61.69 594.25 L61.69 592.84 L62.07 592.84 L62.07 591.43 L62.44 591.43 L62.44 590.02 L62.82 590.02 L62.82 588.61 L63.20 588.61 L63.20 587.90 L63.20 587.16 L63.74 587.16 L63.74 585.69 L64.28 585.69 L64.28 584.21 L64.81 584.21 L64.81 582.74 L65.35 582.74 L65.35 581.26 L65.89 581.26 L65.89 579.79 L66.42 579.79 L66.42 578.31 L66.96 578.31 L66.96 576.84 L67.50 576.84 L67.50 576.10 L67.50 575.34 L68.34 575.34 L68.34 573.82 L69.18 573.82 L69.18 572.30 L70.02 572.30 L70.02 570.78 L70.86 570.78 L70.86 569.26 L71.70 569.26 L71.70 568.50 L71.70 567.79 L72.33 567.79 L72.33 566.38 L72.97 566.38 L72.97 564.96 L73.60 564.96 L73.60 563.54 L74.23 563.54 L74.23 562.13 L74.87 562.13 L74.87 560.71 L75.50 560.71 L75.50 560.00 L75.50 559.27 L76.09 559.27 L76.09 557.81 L76.68 557.81 L76.68 556.34 L77.26 556.34 L77.26 554.88 L77.85 554.88 L77.85 553.42 L78.44 553.42 L78.44 551.96 L79.03 551.96 L79.03 550.49 L79.61 550.49 L79.61 549.03 L80.20 549.03 L80.20 548.30 L80.20 547.56 L81.04 547.56 L81.04 546.07 L81.88 546.07 L81.88 544.58 L82.71 544.58 L82.71 543.09 L83.55 543.09 L83.55 541.61 L84.39 541.61 L84.39 540.12 L85.23 540.12 L85.23 538.63 L86.06 538.63 L86.06 537.14 L86.90 537.14 L86.90 536.40 L86.90 535.73 L87.58 535.73 L87.58 534.38 L88.26 534.38 L88.26 533.02 L88.94 533.02 L88.94 531.67 L89.62 531.67 L89.62 530.32 L90.30 530.32 L90.30 528.97 L90.98 528.97 L90.98 527.62 L91.66 527.62 L91.66 526.27 L92.34 526.27 L92.34 524.92 L93.02 524.92 L93.02 523.57 L93.70 523.57 L93.70 522.90 L93.70 522.21 L94.65 522.21 L94.65 520.84 L95.60 520.84 L95.60 519.46 L96.55 519.46 L96.55 518.09 L97.50 518.09 L97.50 516.71 L98.45 516.71 L98.45 515.34 L99.40 515.34 L99.40 513.96 L100.35 513.96 L100.35 512.59 L101.30 512.59 L101.30 511.90 L101.30 511.21 L102.67 511.21 L102.67 509.84 L104.05 509.84 L104.05 508.46 L105.42 508.46 L105.42 507.09 L106.80 507.09 L106.80 505.71 L108.17 505.71 L108.17 504.34 L109.55 504.34 L109.55 502.96 L110.92 502.96 L110.92 501.59 L112.30 501.59 L112.30 500.90 L112.30 500.33 L113.72 500.33 L113.72 499.20 L115.13 499.20 L115.13 498.07 L116.55 498.07 L116.55 496.93 L117.97 496.93 L117.97 495.80 L119.38 495.80 L119.38 494.67 L120.80 494.67 L120.80 494.10 L120.80 493.44 L122.24 493.44 L122.24 492.11 L123.69 492.11 L123.69 490.78 L125.13 490.78 L125.13 489.45 L126.57 489.45 L126.57 488.12 L128.01 488.12 L128.01 486.79 L129.46 486.79 L129.46 485.46 L130.90 485.46 L130.90 484.80 L130.90 484.45 L132.32 484.45 L132.32 483.75 L133.73 483.75 L133.73 483.05 L135.15 483.05 L135.15 482.35 L136.57 482.35 L136.57 481.65 L137.98 481.65 L137.98 480.95 L139.40 480.95 L139.40 480.60 L139.40 480.08 L140.68 480.08 L140.68 479.03 L141.95 479.03 L141.95 477.98 L143.23 477.98 L143.23 476.93 L144.50 476.93 L144.50 476.40 L144.50 475.72 L145.50 475.72 L145.50 474.36 L146.50 474.36 L146.50 473.00 L147.50 473.00 L147.50 471.64 L148.50 471.64 L148.50 470.28 L149.50 470.28 L149.50 469.60 L149.50 469.26 L150.86 469.26 L150.86 468.58 L152.22 468.58 L152.22 467.90 L153.58 467.90 L153.58 467.22 L154.94 467.22 L154.94 466.54 L156.30 466.54 L156.30 466.20 L156.30 465.53 L157.48 465.53 L157.48 464.19 L158.66 464.19 L158.66 462.85 L159.84 462.85 L159.84 461.51 L161.02 461.51 L161.02 460.17 L162.20 460.17 L162.20 459.50 L162.20 459.07 L163.56 459.07 L163.56 458.21 L164.92 458.21 L164.92 457.35 L166.28 457.35 L166.28 456.49 L167.64 456.49 L167.64 455.63 L169.00 455.63 L169.00 455.20 L169.00 454.69 L170.40 454.69 L170.40 453.66 L171.80 453.66 L171.80 452.64 L173.20 452.64 L173.20 451.61 L174.60 451.61 L174.60 451.10 L174.60 450.79 L176.07 450.79 L176.07 450.18 L177.53 450.18 L177.53 449.56 L179.00 449.56 L179.00 448.94 L180.47 448.94 L180.47 448.32 L181.93 448.32 L181.93 447.71 L183.40 447.71 L183.40 447.40 L183.40 446.86 L184.85 446.86 L184.85 445.79 L186.30 445.79 L186.30 444.71 L187.75 444.71 L187.75 443.64 L189.20 443.64 L189.20 443.10 L189.20 442.59 L190.66 442.59 L190.66 441.58 L192.12 441.58 L192.12 440.57 L193.59 440.57 L193.59 439.56 L195.05 439.56 L195.05 438.54 L196.51 438.54 L196.51 437.53 L197.98 437.53 L197.98 436.52 L199.44 436.52 L199.44 435.51 L200.90 435.51 L200.90 435.00 L200.90 434.77 L202.36 434.77 L202.36 434.32 L203.83 434.32 L203.83 433.88 L205.29 433.88 L205.29 433.43 L206.75 433.43 L206.75 432.98 L208.21 432.98 L208.21 432.53 L209.68 432.53 L209.68 432.08 L211.14 432.08 L211.14 431.63 L212.60 431.63 L212.60 431.40 L212.60 431.12 L214.05 431.12 L214.05 430.57 L215.50 430.57 L215.50 430.02 L216.95 430.02 L216.95 429.47 L218.40 429.47 L218.40 428.92 L219.85 428.92 L219.85 428.37 L221.30 428.37 L221.30 427.82 L222.75 427.82 L222.75 427.27 L224.20 427.27 L224.20 427.00 L224.20 426.82 L225.66 426.82 L225.66 426.46 L227.12 426.46 L227.12 426.09 L228.59 426.09 L228.59 425.73 L230.05 425.73 L230.05 425.37 L231.51 425.37 L231.51 425.01 L232.98 425.01 L232.98 424.64 L234.44 424.64 L234.44 424.28 L235.90 424.28 L235.90 424.10 L235.90 423.98 L237.37 423.98 L237.37 423.73 L238.83 423.73 L238.83 423.49 L240.30 423.49 L240.30 423.24 L241.77 423.24 L241.77 423.00 L243.23 423.00 L243.23 422.76 L244.70 422.76 L244.70 422.51 L246.17 422.51 L246.17 422.27 L247.63 422.27 L247.63 422.02 L249.10 422.02 L249.10 421.90 L249.10 421.77 L250.42 421.77 L250.42 421.52 L251.73 421.52 L251.73 421.27 L253.05 421.27 L253.05 421.02 L254.37 421.02 L254.37 420.77 L255.68 420.77 L255.68 420.52 L257.00 420.52 L257.00 420.40 L257.00 420.19 L258.45 420.19 L258.45 419.76 L259.90 419.76 L259.90 419.34 L261.35 419.34 L261.35 418.91 L262.80 418.91 L262.80 418.70 L262.80 418.12 L264.37 418.12 L264.37 416.95 L265.93 416.95 L265.93 415.78 L267.50 415.78 L267.50 415.20 L267.50 414.88 L268.98 414.88 L268.98 414.23 L270.45 414.23 L270.45 413.58 L271.93 413.58 L271.93 412.93 L273.40 412.93 L273.40 412.60 L273.40 412.48 L274.75 412.48 L274.75 412.23 L276.10 412.23 L276.10 411.98 L277.45 411.98 L277.45 411.73 L278.80 411.73 L278.80 411.48 L280.15 411.48 L280.15 411.23 L281.50 411.23 L281.50 411.10 L281.50 410.92 L282.90 410.92 L282.90 410.56 L284.30 410.56 L284.30 410.20 L285.70 410.20 L285.70 409.84 L287.10 409.84 L287.10 409.48 L288.50 409.48 L288.50 409.30 L288.50 409.24 L289.96 409.24 L289.96 409.13 L291.42 409.13 L291.42 409.02 L292.89 409.02 L292.89 408.91 L294.35 408.91 L294.35 408.79 L295.81 408.79 L295.81 408.68 L297.27 408.68 L297.27 408.57 L298.74 408.57 L298.74 408.46 L300.20 408.46 L300.20 408.40 L300.20 408.39 L301.63 408.39 L301.63 408.37 L303.07 408.37 L303.07 408.34 L304.50 408.34 L304.50 408.32 L305.93 408.32 L305.93 408.30 L307.37 408.30 L307.37 408.28 L308.80 408.28 L308.80 408.26 L310.23 408.26 L310.23 408.23 L311.67 408.23 L311.67 408.21 L313.10 408.21 L313.10 408.20 L313.10 408.18 L314.40 408.18 L314.40 408.12 L315.70 408.12 L315.70 408.07 L317.00 408.07 L317.00 408.02 L318.30 408.02 L318.30 408.00" stroke="#f5a52c" stroke-width="1.4" fill="none" stroke-linejoin="round"/><polygon points="109.90,495.80 112.40,498.30 114.90,495.80 117.40,498.30 114.90,500.80 117.40,503.30 114.90,505.80 112.40,503.30 109.90,505.80 107.40,503.30 109.90,500.80 107.40,498.30" fill="#f5a52c" stroke="#f5a52c" stroke-width="0.9" stroke-linejoin="miter"/><polygon points="149.60,492.60 152.10,495.10 154.60,492.60 157.10,495.10 154.60,497.60 157.10,500.10 154.60,502.60 152.10,500.10 149.60,502.60 147.10,500.10 149.60,497.60 147.10,495.10" fill="#3a4fa8" stroke="#3a4fa8" stroke-width="0.9" stroke-linejoin="miter"/><polygon points="82.60,597.20 85.10,599.70 87.60,597.20 90.10,599.70 87.60,602.20 90.10,604.70 87.60,607.20 85.10,604.70 82.60,607.20 80.10,604.70 82.60,602.20 80.10,599.70" fill="#11803a" stroke="#11803a" stroke-width="0.9" stroke-linejoin="miter"/><rect x="144" y="652.2" width="184.5" height="31.8" rx="1.5" fill="#fff" fill-opacity="0.8" stroke="#d8d8d8" stroke-width="0.8"/><path d="M146.2 657.8H160.4" stroke="#f5a52c" stroke-width="1.3"/><text x="165.3" y="660.8" font-family='"Liberation Sans", sans-serif' font-size="7.3" textLength="150.2" lengthAdjust="spacingAndGlyphs" fill="#333">ECG-WMA-Net AUC = 0.781 (CI: 0.762, 0.799)</text><path d="M146.2 667.6H160.4" stroke="#4659b8" stroke-width="1.3"/><text x="165.3" y="670.6" font-family='"Liberation Sans", sans-serif' font-size="7.3" textLength="160" lengthAdjust="spacingAndGlyphs" fill="#333">ECG quantitative AUC = 0.681 (CI: 0.658, 0.705)</text><path d="M146.2 677.1H160.4" stroke="#2e994e" stroke-width="1.3"/><text x="165.3" y="680.1" font-family='"Liberation Sans", sans-serif' font-size="7.3" textLength="154.8" lengthAdjust="spacingAndGlyphs" fill="#333">ECG qualitative AUC = 0.571 (CI: 0.552, 0.590)</text><rect x="379.5" y="341.5" width="28" height="32" fill="#fff" stroke="#222" stroke-width="1"/><text x="393.4" y="363.2" text-anchor="middle" font-family='"Liberation Sans", sans-serif' font-size="22" fill="#111">c</text><rect x="389.2" y="395.2" width="294.3" height="292.3" fill="none" stroke="#7a7a7a" stroke-width="1.2"/><text x="402.3" y="697.9" text-anchor="middle" font-family='"Liberation Sans", sans-serif' font-size="7.8" textLength="10" lengthAdjust="spacingAndGlyphs" fill="#333">0.0</text><text x="384.2" y="677.2" text-anchor="end" font-family='"Liberation Sans", sans-serif' font-size="7.8" textLength="10" lengthAdjust="spacingAndGlyphs" fill="#333">0.0</text><text x="456.0" y="697.9" text-anchor="middle" font-family='"Liberation Sans", sans-serif' font-size="7.8" textLength="10" lengthAdjust="spacingAndGlyphs" fill="#333">0.2</text><text x="384.2" y="623.9" text-anchor="end" font-family='"Liberation Sans", sans-serif' font-size="7.8" textLength="10" lengthAdjust="spacingAndGlyphs" fill="#333">0.2</text><text x="509.7" y="697.9" text-anchor="middle" font-family='"Liberation Sans", sans-serif' font-size="7.8" textLength="10" lengthAdjust="spacingAndGlyphs" fill="#333">0.4</text><text x="384.2" y="570.6" text-anchor="end" font-family='"Liberation Sans", sans-serif' font-size="7.8" textLength="10" lengthAdjust="spacingAndGlyphs" fill="#333">0.4</text><text x="563.4" y="697.9" text-anchor="middle" font-family='"Liberation Sans", sans-serif' font-size="7.8" textLength="10" lengthAdjust="spacingAndGlyphs" fill="#333">0.6</text><text x="384.2" y="517.3" text-anchor="end" font-family='"Liberation Sans", sans-serif' font-size="7.8" textLength="10" lengthAdjust="spacingAndGlyphs" fill="#333">0.6</text><text x="617.1" y="697.9" text-anchor="middle" font-family='"Liberation Sans", sans-serif' font-size="7.8" textLength="10" lengthAdjust="spacingAndGlyphs" fill="#333">0.8</text><text x="384.2" y="464.0" text-anchor="end" font-family='"Liberation Sans", sans-serif' font-size="7.8" textLength="10" lengthAdjust="spacingAndGlyphs" fill="#333">0.8</text><text x="670.8" y="697.9" text-anchor="middle" font-family='"Liberation Sans", sans-serif' font-size="7.8" textLength="10" lengthAdjust="spacingAndGlyphs" fill="#333">1.0</text><text x="384.2" y="410.7" text-anchor="end" font-family='"Liberation Sans", sans-serif' font-size="7.8" textLength="10" lengthAdjust="spacingAndGlyphs" fill="#333">1.0</text><path d="M402.3 687.5v3M389.2 674.4h-3M456.0 687.5v3M389.2 621.1h-3M509.7 687.5v3M389.2 567.8h-3M563.4 687.5v3M389.2 514.5h-3M617.1 687.5v3M389.2 461.2h-3M670.8 687.5v3M389.2 407.9h-3" stroke="#7a7a7a" stroke-width="1"/><text x="536.35" y="391.4" text-anchor="middle" font-family='"Liberation Sans", sans-serif' font-size="11.3" textLength="263.4" lengthAdjust="spacingAndGlyphs" fill="#222">ECG-WMA-Net internal testing vs. external testing</text><text x="536.35" y="709.5" text-anchor="middle" font-family='"Liberation Sans", sans-serif' font-size="10" textLength="85.5" lengthAdjust="spacingAndGlyphs" fill="#222">False Positive Rate</text><text x="0" y="0" transform="translate(369.3,541.35) rotate(-90)" text-anchor="middle" font-family='"Liberation Sans", sans-serif' font-size="10" textLength="81.3" lengthAdjust="spacingAndGlyphs" fill="#222">True Positive Rate</text><path d="M402.3 674.2 L670.3 407.7" stroke="#222" stroke-width="1.35" stroke-dasharray="3.9 1.9" fill="none"/><path d="M402.30 674.20 L402.30 673.00 L402.73 673.00 L402.73 670.60 L403.17 670.60 L403.17 668.20 L403.60 668.20 L403.60 667.00 L403.60 665.83 L403.93 665.83 L403.93 663.49 L404.26 663.49 L404.26 661.14 L404.59 661.14 L404.59 658.80 L404.91 658.80 L404.91 656.46 L405.24 656.46 L405.24 654.11 L405.57 654.11 L405.57 651.77 L405.90 651.77 L405.90 650.60 L405.90 649.42 L406.50 649.42 L406.50 647.06 L407.10 647.06 L407.10 644.70 L407.70 644.70 L407.70 642.34 L408.30 642.34 L408.30 639.98 L408.90 639.98 L408.90 638.80 L408.90 637.56 L409.40 637.56 L409.40 635.09 L409.90 635.09 L409.90 632.61 L410.40 632.61 L410.40 630.14 L410.90 630.14 L410.90 628.90 L410.90 627.90 L412.85 627.90 L412.85 625.90 L414.80 625.90 L414.80 624.90 L414.80 623.55 L415.05 623.55 L415.05 620.85 L415.30 620.85 L415.30 618.15 L415.55 618.15 L415.55 615.45 L415.80 615.45 L415.80 614.10 L415.80 612.95 L416.80 612.95 L416.80 610.65 L417.80 610.65 L417.80 608.35 L418.80 608.35 L418.80 607.20 L418.80 605.88 L419.77 605.88 L419.77 603.25 L420.73 603.25 L420.73 600.62 L421.70 600.62 L421.70 599.30 L421.70 597.80 L422.70 597.80 L422.70 594.80 L423.70 594.80 L423.70 593.30 L423.70 592.07 L425.70 592.07 L425.70 589.62 L427.70 589.62 L427.70 588.40 L427.70 587.16 L428.68 587.16 L428.68 584.69 L429.65 584.69 L429.65 582.21 L430.63 582.21 L430.63 579.74 L431.60 579.74 L431.60 578.50 L431.60 577.18 L432.93 577.18 L432.93 574.55 L434.27 574.55 L434.27 571.92 L435.60 571.92 L435.60 570.60 L435.60 569.62 L438.05 569.62 L438.05 567.67 L440.50 567.67 L440.50 566.70 L440.50 565.55 L441.17 565.55 L441.17 563.25 L441.83 563.25 L441.83 560.95 L442.50 560.95 L442.50 559.80 L442.50 559.05 L444.95 559.05 L444.95 557.55 L447.40 557.55 L447.40 556.80 L447.40 555.77 L448.20 555.77 L448.20 553.73 L449.00 553.73 L449.00 552.70 L449.00 551.48 L450.47 551.48 L450.47 549.05 L451.93 549.05 L451.93 546.62 L453.40 546.62 L453.40 545.40 L453.40 544.31 L454.86 544.31 L454.86 542.13 L456.32 542.13 L456.32 539.95 L457.78 539.95 L457.78 537.77 L459.24 537.77 L459.24 535.59 L460.70 535.59 L460.70 534.50 L460.70 533.02 L462.85 533.02 L462.85 530.08 L465.00 530.08 L465.00 528.60 L465.00 527.63 L467.43 527.63 L467.43 525.70 L469.87 525.70 L469.87 523.77 L472.30 523.77 L472.30 522.80 L472.30 522.06 L474.50 522.06 L474.50 520.59 L476.70 520.59 L476.70 519.11 L478.90 519.11 L478.90 517.64 L481.10 517.64 L481.10 516.90 L481.10 515.57 L481.60 515.57 L481.60 512.90 L482.10 512.90 L482.10 510.23 L482.60 510.23 L482.60 508.90 L482.60 508.00 L485.50 508.00 L485.50 506.20 L488.40 506.20 L488.40 505.30 L488.40 504.08 L489.60 504.08 L489.60 501.65 L490.80 501.65 L490.80 499.22 L492.00 499.22 L492.00 498.00 L492.00 497.18 L494.20 497.18 L494.20 495.52 L496.40 495.52 L496.40 493.88 L498.60 493.88 L498.60 492.23 L500.80 492.23 L500.80 491.40 L500.80 490.30 L501.52 490.30 L501.52 488.10 L502.25 488.10 L502.25 485.90 L502.98 485.90 L502.98 483.70 L503.70 483.70 L503.70 482.60 L503.70 482.00 L506.40 482.00 L506.40 480.80 L509.10 480.80 L509.10 479.60 L511.80 479.60 L511.80 479.00 L511.80 478.45 L514.70 478.45 L514.70 477.35 L517.60 477.35 L517.60 476.80 L517.60 475.52 L519.40 475.52 L519.40 472.97 L521.20 472.97 L521.20 471.70 L521.20 470.75 L523.50 470.75 L523.50 468.85 L525.80 468.85 L525.80 467.90 L525.80 467.82 L528.50 467.82 L528.50 467.65 L531.20 467.65 L531.20 467.48 L533.90 467.48 L533.90 467.40 L533.90 466.15 L535.60 466.15 L535.60 463.65 L537.30 463.65 L537.30 461.15 L539.00 461.15 L539.00 459.90 L539.00 458.92 L541.67 458.92 L541.67 456.95 L544.33 456.95 L544.33 454.98 L547.00 454.98 L547.00 454.00 L547.00 453.27 L549.20 453.27 L549.20 451.82 L551.40 451.82 L551.40 451.10 L551.40 450.98 L553.60 450.98 L553.60 450.75 L555.80 450.75 L555.80 450.52 L558.00 450.52 L558.00 450.40 L558.00 449.18 L559.43 449.18 L559.43 446.75 L560.87 446.75 L560.87 444.32 L562.30 444.32 L562.30 443.10 L562.30 442.60 L564.73 442.60 L564.73 441.60 L567.17 441.60 L567.17 440.60 L569.60 440.60 L569.60 440.10 L569.60 439.25 L572.03 439.25 L572.03 437.55 L574.47 437.55 L574.47 435.85 L576.90 435.85 L576.90 435.00 L576.90 434.63 L579.33 434.63 L579.33 433.90 L581.77 433.90 L581.77 433.17 L584.20 433.17 L584.20 432.80 L584.20 431.73 L587.15 431.73 L587.15 429.58 L590.10 429.58 L590.10 428.50 L590.10 427.95 L592.48 427.95 L592.48 426.85 L594.85 426.85 L594.85 425.75 L597.23 425.75 L597.23 424.65 L599.60 424.65 L599.60 424.10 L599.60 422.95 L602.15 422.95 L602.15 420.65 L604.70 420.65 L604.70 419.50 L604.70 419.02 L607.03 419.02 L607.03 418.05 L609.37 418.05 L609.37 417.08 L611.70 417.08 L611.70 416.60 L611.70 416.60 L614.03 416.60 L614.03 416.60 L616.36 416.60 L616.36 416.60 L618.69 416.60 L618.69 416.60 L621.01 416.60 L621.01 416.60 L623.34 416.60 L623.34 416.60 L625.67 416.60 L625.67 416.60 L628.00 416.60 L628.00 416.60 L628.00 415.25 L631.00 415.25 L631.00 413.90 L631.00 413.85 L633.60 413.85 L633.60 413.75 L636.20 413.75 L636.20 413.70 L636.20 413.00 L638.50 413.00 L638.50 412.30 L638.50 412.23 L641.08 412.23 L641.08 412.09 L643.66 412.09 L643.66 411.95 L646.24 411.95 L646.24 411.81 L648.82 411.81 L648.82 411.67 L651.40 411.67 L651.40 411.60 L651.40 410.40 L653.70 410.40 L653.70 409.20 L653.70 409.15 L656.03 409.15 L656.03 409.05 L658.35 409.05 L658.35 408.95 L660.68 408.95 L660.68 408.85 L663.00 408.85 L663.00 408.80 L663.00 408.20 L664.20 408.20 L664.20 407.60 L664.20 407.60 L666.23 407.60 L666.23 407.60 L668.27 407.60 L668.27 407.60 L670.30 407.60 L670.30 407.60" stroke="#4659b8" stroke-width="1.4" fill="none" stroke-linejoin="round"/><path d="M402.30 674.20 L402.30 673.51 L402.40 673.51 L402.40 672.12 L402.50 672.12 L402.50 670.73 L402.60 670.73 L402.60 669.34 L402.70 669.34 L402.70 667.95 L402.80 667.95 L402.80 666.56 L402.90 666.56 L402.90 665.18 L403.00 665.18 L403.00 663.79 L403.10 663.79 L403.10 662.40 L403.20 662.40 L403.20 661.01 L403.30 661.01 L403.30 659.62 L403.40 659.62 L403.40 658.24 L403.50 658.24 L403.50 656.85 L403.60 656.85 L403.60 655.46 L403.70 655.46 L403.70 654.07 L403.80 654.07 L403.80 652.68 L403.90 652.68 L403.90 651.29 L404.00 651.29 L404.00 650.60 L404.00 649.90 L404.17 649.90 L404.17 648.51 L404.34 648.51 L404.34 647.11 L404.51 647.11 L404.51 645.72 L404.68 645.72 L404.68 644.33 L404.85 644.33 L404.85 642.93 L405.02 642.93 L405.02 641.54 L405.19 641.54 L405.19 640.14 L405.36 640.14 L405.36 638.75 L405.54 638.75 L405.54 637.36 L405.71 637.36 L405.71 635.96 L405.88 635.96 L405.88 634.57 L406.05 634.57 L406.05 633.17 L406.22 633.17 L406.22 631.78 L406.39 631.78 L406.39 630.39 L406.56 630.39 L406.56 628.99 L406.73 628.99 L406.73 627.60 L406.90 627.60 L406.90 626.90 L406.90 626.22 L407.13 626.22 L407.13 624.85 L407.36 624.85 L407.36 623.48 L407.59 623.48 L407.59 622.11 L407.82 622.11 L407.82 620.74 L408.05 620.74 L408.05 619.37 L408.28 619.37 L408.28 618.00 L408.52 618.00 L408.52 616.63 L408.75 616.63 L408.75 615.26 L408.98 615.26 L408.98 613.89 L409.21 613.89 L409.21 612.52 L409.44 612.52 L409.44 611.15 L409.67 611.15 L409.67 609.78 L409.90 609.78 L409.90 609.10 L409.90 608.38 L410.23 608.38 L410.23 606.94 L410.56 606.94 L410.56 605.50 L410.89 605.50 L410.89 604.07 L411.22 604.07 L411.22 602.63 L411.55 602.63 L411.55 601.19 L411.88 601.19 L411.88 599.75 L412.22 599.75 L412.22 598.31 L412.55 598.31 L412.55 596.87 L412.88 596.87 L412.88 595.43 L413.21 595.43 L413.21 594.00 L413.54 594.00 L413.54 592.56 L413.87 592.56 L413.87 591.12 L414.20 591.12 L414.20 590.40 L414.20 589.68 L414.71 589.68 L414.71 588.25 L415.22 588.25 L415.22 586.81 L415.73 586.81 L415.73 585.37 L416.24 585.37 L416.24 583.94 L416.75 583.94 L416.75 582.50 L417.25 582.50 L417.25 581.06 L417.76 581.06 L417.76 579.63 L418.27 579.63 L418.27 578.19 L418.78 578.19 L418.78 576.75 L419.29 576.75 L419.29 575.32 L419.80 575.32 L419.80 574.60 L419.80 573.92 L420.54 573.92 L420.54 572.56 L421.28 572.56 L421.28 571.19 L422.01 571.19 L422.01 569.83 L422.75 569.83 L422.75 568.47 L423.49 568.47 L423.49 567.11 L424.23 567.11 L424.23 565.74 L424.96 565.74 L424.96 564.38 L425.70 564.38 L425.70 563.70 L425.70 562.97 L426.24 562.97 L426.24 561.51 L426.78 561.51 L426.78 560.04 L427.31 560.04 L427.31 558.58 L427.85 558.58 L427.85 557.12 L428.39 557.12 L428.39 555.66 L428.93 555.66 L428.93 554.19 L429.46 554.19 L429.46 552.73 L430.00 552.73 L430.00 552.00 L430.00 551.27 L430.66 551.27 L430.66 549.81 L431.32 549.81 L431.32 548.35 L431.98 548.35 L431.98 546.89 L432.64 546.89 L432.64 545.43 L433.30 545.43 L433.30 543.97 L433.96 543.97 L433.96 542.51 L434.62 542.51 L434.62 541.05 L435.28 541.05 L435.28 539.59 L435.94 539.59 L435.94 538.13 L436.60 538.13 L436.60 537.40 L436.60 536.67 L437.48 536.67 L437.48 535.21 L438.36 535.21 L438.36 533.75 L439.24 533.75 L439.24 532.29 L440.12 532.29 L440.12 530.83 L441.00 530.83 L441.00 530.10 L441.00 529.44 L442.02 529.44 L442.02 528.12 L443.04 528.12 L443.04 526.80 L444.06 526.80 L444.06 525.48 L445.08 525.48 L445.08 524.16 L446.10 524.16 L446.10 523.50 L446.10 522.77 L446.93 522.77 L446.93 521.31 L447.76 521.31 L447.76 519.86 L448.59 519.86 L448.59 518.40 L449.41 518.40 L449.41 516.94 L450.24 516.94 L450.24 515.49 L451.07 515.49 L451.07 514.03 L451.90 514.03 L451.90 513.30 L451.90 512.68 L453.37 512.68 L453.37 511.45 L454.83 511.45 L454.83 510.22 L456.30 510.22 L456.30 509.60 L456.30 508.93 L457.52 508.93 L457.52 507.60 L458.73 507.60 L458.73 506.27 L459.95 506.27 L459.95 504.93 L461.17 504.93 L461.17 503.60 L462.38 503.60 L462.38 502.27 L463.60 502.27 L463.60 501.60 L463.60 500.99 L465.05 500.99 L465.05 499.77 L466.50 499.77 L466.50 498.56 L467.95 498.56 L467.95 497.34 L469.40 497.34 L469.40 496.12 L470.85 496.12 L470.85 494.91 L472.30 494.91 L472.30 494.30 L472.30 493.66 L473.76 493.66 L473.76 492.39 L475.22 492.39 L475.22 491.11 L476.69 491.11 L476.69 489.84 L478.15 489.84 L478.15 488.56 L479.61 488.56 L479.61 487.29 L481.07 487.29 L481.07 486.01 L482.54 486.01 L482.54 484.74 L484.00 484.74 L484.00 484.10 L484.00 483.73 L485.47 483.73 L485.47 483.00 L486.93 483.00 L486.93 482.27 L488.40 482.27 L488.40 481.53 L489.87 481.53 L489.87 480.80 L491.33 480.80 L491.33 480.07 L492.80 480.07 L492.80 479.70 L492.80 479.06 L494.25 479.06 L494.25 477.79 L495.70 477.79 L495.70 476.51 L497.15 476.51 L497.15 475.24 L498.60 475.24 L498.60 474.60 L498.60 473.88 L499.70 473.88 L499.70 472.43 L500.80 472.43 L500.80 470.98 L501.90 470.98 L501.90 469.53 L503.00 469.53 L503.00 468.80 L503.00 468.50 L504.32 468.50 L504.32 467.90 L505.64 467.90 L505.64 467.30 L506.96 467.30 L506.96 466.70 L508.28 466.70 L508.28 466.10 L509.60 466.10 L509.60 465.80 L509.60 465.07 L511.05 465.07 L511.05 463.62 L512.50 463.62 L512.50 462.18 L513.95 462.18 L513.95 460.73 L515.40 460.73 L515.40 460.00 L515.40 459.25 L516.93 459.25 L516.93 457.75 L518.47 457.75 L518.47 456.25 L520.00 456.25 L520.00 455.50 L520.00 455.37 L521.47 455.37 L521.47 455.10 L522.93 455.10 L522.93 454.83 L524.40 454.83 L524.40 454.70 L524.40 454.10 L525.37 454.10 L525.37 452.90 L526.33 452.90 L526.33 451.70 L527.30 451.70 L527.30 451.10 L527.30 450.79 L528.77 450.79 L528.77 450.18 L530.23 450.18 L530.23 449.56 L531.70 449.56 L531.70 448.94 L533.17 448.94 L533.17 448.32 L534.63 448.32 L534.63 447.71 L536.10 447.71 L536.10 447.40 L536.10 446.67 L537.55 446.67 L537.55 445.22 L539.00 445.22 L539.00 444.50 L539.00 443.95 L540.45 443.95 L540.45 442.85 L541.90 442.85 L541.90 441.75 L543.35 441.75 L543.35 440.65 L544.80 440.65 L544.80 440.10 L544.80 439.69 L546.26 439.69 L546.26 438.86 L547.71 438.86 L547.71 438.03 L549.17 438.03 L549.17 437.20 L550.63 437.20 L550.63 436.37 L552.09 436.37 L552.09 435.54 L553.54 435.54 L553.54 434.71 L555.00 434.71 L555.00 434.30 L555.00 434.03 L556.46 434.03 L556.46 433.48 L557.92 433.48 L557.92 432.93 L559.39 432.93 L559.39 432.38 L560.85 432.38 L560.85 431.82 L562.31 431.82 L562.31 431.27 L563.77 431.27 L563.77 430.72 L565.24 430.72 L565.24 430.17 L566.70 430.17 L566.70 429.90 L566.70 429.66 L568.17 429.66 L568.17 429.17 L569.63 429.17 L569.63 428.69 L571.10 428.69 L571.10 428.21 L572.57 428.21 L572.57 427.72 L574.03 427.72 L574.03 427.24 L575.50 427.24 L575.50 427.00 L575.50 426.80 L576.96 426.80 L576.96 426.40 L578.41 426.40 L578.41 426.00 L579.87 426.00 L579.87 425.60 L581.32 425.60 L581.32 425.20 L582.78 425.20 L582.78 424.80 L584.23 424.80 L584.23 424.40 L585.69 424.40 L585.69 424.00 L587.14 424.00 L587.14 423.60 L588.60 423.60 L588.60 423.40 L588.60 423.29 L590.06 423.29 L590.06 423.08 L591.51 423.08 L591.51 422.86 L592.97 422.86 L592.97 422.65 L594.43 422.65 L594.43 422.44 L595.89 422.44 L595.89 422.22 L597.34 422.22 L597.34 422.01 L598.80 422.01 L598.80 421.90 L598.80 421.84 L600.20 421.84 L600.20 421.72 L601.60 421.72 L601.60 421.60 L603.00 421.60 L603.00 421.48 L604.40 421.48 L604.40 421.36 L605.80 421.36 L605.80 421.30 L605.80 421.15 L607.27 421.15 L607.27 420.85 L608.75 420.85 L608.75 420.55 L610.23 420.55 L610.23 420.25 L611.70 420.25 L611.70 420.10 L611.70 419.82 L613.27 419.82 L613.27 419.25 L614.83 419.25 L614.83 418.68 L616.40 418.68 L616.40 418.40 L616.40 417.72 L617.93 417.72 L617.93 416.35 L619.47 416.35 L619.47 414.98 L621.00 414.98 L621.00 414.30 L621.00 413.97 L622.57 413.97 L622.57 413.30 L624.13 413.30 L624.13 412.63 L625.70 412.63 L625.70 412.30 L625.70 412.19 L627.03 412.19 L627.03 411.98 L628.36 411.98 L628.36 411.76 L629.69 411.76 L629.69 411.55 L631.01 411.55 L631.01 411.34 L632.34 411.34 L632.34 411.12 L633.67 411.12 L633.67 410.91 L635.00 410.91 L635.00 410.80 L635.00 410.60 L636.48 410.60 L636.48 410.20 L637.95 410.20 L637.95 409.80 L639.43 409.80 L639.43 409.40 L640.90 409.40 L640.90 409.20 L640.90 409.15 L642.36 409.15 L642.36 409.05 L643.82 409.05 L643.82 408.95 L645.29 408.95 L645.29 408.85 L646.75 408.85 L646.75 408.75 L648.21 408.75 L648.21 408.65 L649.67 408.65 L649.67 408.55 L651.14 408.55 L651.14 408.45 L652.60 408.45 L652.60 408.40 L652.60 408.38 L653.96 408.38 L653.96 408.33 L655.32 408.33 L655.32 408.28 L656.68 408.28 L656.68 408.24 L658.05 408.24 L658.05 408.19 L659.41 408.19 L659.41 408.15 L660.77 408.15 L660.77 408.10 L662.13 408.10 L662.13 408.05 L663.49 408.05 L663.49 408.01 L664.85 408.01 L664.85 407.96 L666.22 407.96 L666.22 407.92 L667.58 407.92 L667.58 407.87 L668.94 407.87 L668.94 407.82 L670.30 407.82 L670.30 407.80" stroke="#f5a52c" stroke-width="1.4" fill="none" stroke-linejoin="round"/><rect x="488.7" y="662.6" width="192.3" height="21.3" rx="1.5" fill="#fff" fill-opacity="0.8" stroke="#d8d8d8" stroke-width="0.8"/><path d="M490.9 667.3H504.8" stroke="#f5a52c" stroke-width="1.3"/><text x="509.8" y="670.6" font-family='"Liberation Sans", sans-serif' font-size="7.3" textLength="168" lengthAdjust="spacingAndGlyphs" fill="#333">Stanford University AUC = 0.781 (CI: 0.762, 0.799)</text><path d="M490.9 677.0H504.8" stroke="#4659b8" stroke-width="1.3"/><text x="509.8" y="680.3" font-family='"Liberation Sans", sans-serif' font-size="7.3" textLength="160.7" lengthAdjust="spacingAndGlyphs" fill="#333">Emory University AUC = 0.723 (CI: 0.685, 0.757)</text></svg></body></html>
